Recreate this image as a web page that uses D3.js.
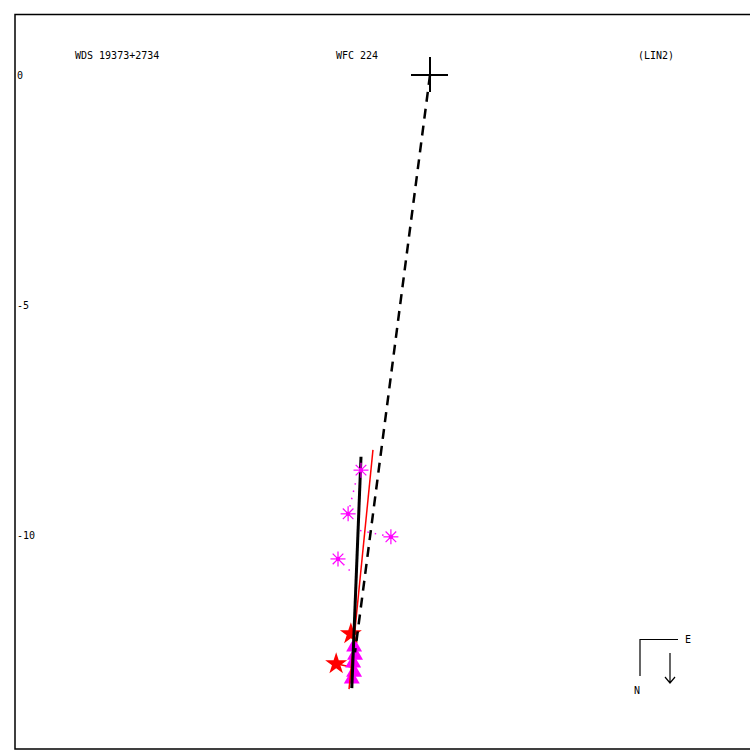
<!DOCTYPE html>
<html><head><meta charset="utf-8">
<script src="https://cdn.jsdelivr.net/npm/d3@7"></script>
<style>body{margin:0;background:#fff}svg{display:block}text{font-family:"DejaVu Sans Mono",monospace;font-size:10px;fill:#000}</style>
</head><body><svg width="750" height="750"></svg>
<script>
// Data (arcsec offsets relative to primary)
const titleLabels = ["WDS 19373+2734", "WFC 224", "(LIN2)"];
const yTicks = [0, -5, -10];
// Micrometer / visual observations (asterisks) and their predicted positions
const astObs  = [[-1.50,-8.59],[-1.78,-9.54],[-0.85,-10.04],[-2.00,-10.52]];
const astFit  = [[-1.57,-8.50],[-1.61,-8.83],[-1.59,-9.89],[-1.67,-10.85]];
// Red stars (Hipparcos / space) and predicted positions
const starObs = [[-1.72,-12.15],[-2.04,-12.80]];
const starFit = [[-1.65,-12.28],[-1.72,-12.87]];
// Speckle / interferometric (triangles)
const triObs  = [[-1.65,-12.43],[-1.63,-12.61],[-1.67,-12.78],[-1.65,-12.98],[-1.70,-13.13]];
// Linear fit (black), previous fit (red), line from primary (dashed)
const fitLine = [[-1.50,-8.30],[-1.70,-13.33]];
const oldLine = [[-1.24,-8.15],[-1.76,-13.35]];
const dashLine = [[0,0],[-1.63,-12.55]];

const svg = d3.select("svg");
const x = d3.scaleLinear().domain([0,1]).range([430,476]);
const y = d3.scaleLinear().domain([0,-10]).range([75,535]);

// frame
svg.append("rect").attr("x",15).attr("y",14.5).attr("width",745).attr("height",734.5)
  .attr("fill","none").attr("stroke","#000").attr("stroke-width",1.5);

// y tick labels
svg.selectAll(".yt").data(yTicks).join("text")
  .attr("x",17).attr("y",d=>y(d)+4).text(d=>d);

// titles
const tx=[75,336,638];
svg.selectAll(".tt").data(titleLabels).join("text")
  .attr("x",(d,i)=>tx[i]).attr("y",59).text(d=>d);

const line = d3.line().x(d=>x(d[0])).y(d=>y(d[1]));

// residual lines
astObs.forEach((p,i)=>{
  svg.append("path").attr("d",line([p,astFit[i]])).attr("stroke","#ff00ff")
    .attr("stroke-width",1.5).attr("stroke-dasharray","1.5,6").attr("fill","none");
});
starObs.forEach((p,i)=>{
  svg.append("path").attr("d",line([p,starFit[i]])).attr("stroke","#ff0000")
    .attr("stroke-width",1.5).attr("fill","none");
});

// triangles
svg.selectAll(".tri").data(triObs).join("path")
  .attr("transform",d=>`translate(${x(d[0])},${y(d[1])})`)
  .attr("d",d3.symbol(d3.symbolTriangle,110)).attr("fill","#ff00ff");

// stars
svg.selectAll(".star").data(starObs).join("path")
  .attr("transform",d=>`translate(${x(d[0])},${y(d[1])})`)
  .attr("d",d3.symbol(d3.symbolStar,150)).attr("fill","#ff0000");

// dashed line from primary
svg.append("path").attr("d",line(dashLine)).attr("stroke","#000")
  .attr("stroke-width",2.5).attr("stroke-dasharray","10,7").attr("fill","none");
// previous orbit (red)
svg.append("path").attr("d",line(oldLine)).attr("stroke","#ff0000")
  .attr("stroke-width",1.5).attr("fill","none");

// fit line
svg.append("path").attr("d",line(fitLine)).attr("stroke","#000")
  .attr("stroke-width",3).attr("fill","none");

// asterisks
const ast = svg.selectAll(".ast").data(astObs).join("g")
  .attr("transform",d=>`translate(${x(d[0])},${y(d[1])})`);
[0,45,90,135].forEach(a=>{
  const r=7.5, c=Math.cos(a*Math.PI/180)*r, s=Math.sin(a*Math.PI/180)*r;
  ast.append("line").attr("x1",-c).attr("y1",-s).attr("x2",c).attr("y2",s)
    .attr("stroke","#ff00ff").attr("stroke-width",1.2);
});
ast.append("rect").attr("x",-2).attr("y",-2).attr("width",4).attr("height",4).attr("fill","#ff00ff");

// primary cross
const px=x(0), py=y(0);
svg.append("line").attr("x1",px-19).attr("x2",px+18).attr("y1",py).attr("y2",py).attr("stroke","#000").attr("stroke-width",2);
svg.append("line").attr("x1",px).attr("x2",px).attr("y1",py-18).attr("y2",py+17).attr("stroke","#000").attr("stroke-width",2);

// compass
const cg = svg.append("g");
cg.append("path").attr("d","M640,676V639.5H678").attr("fill","none").attr("stroke","#000").attr("stroke-width",1.2);
cg.append("text").attr("x",685).attr("y",643).text("E");
cg.append("text").attr("x",634).attr("y",694).text("N");
cg.append("path").attr("d","M670,653V683M665,677L670,683L675,677").attr("fill","none").attr("stroke","#000").attr("stroke-width",1.2);
</script></body></html>
